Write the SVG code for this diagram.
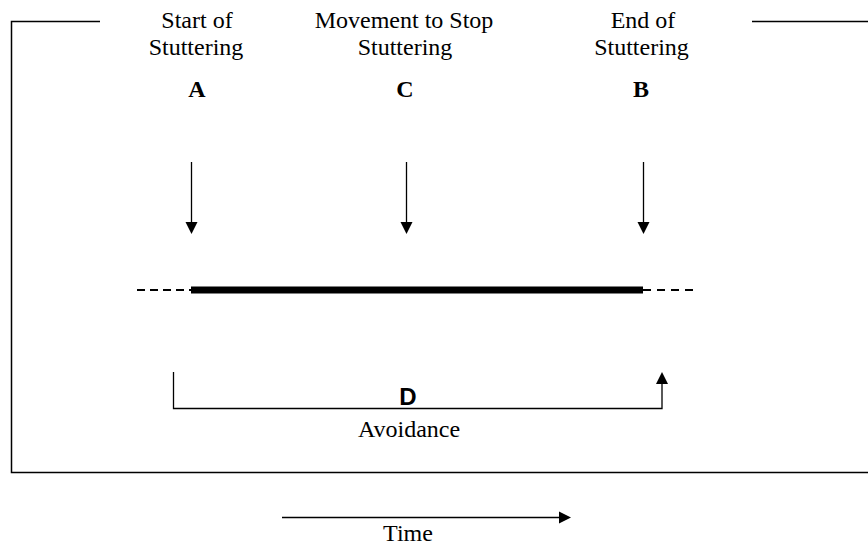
<svg xmlns="http://www.w3.org/2000/svg" width="868" height="548" viewBox="0 0 868 548">
<style>
.t{font-family:"Liberation Serif","Times New Roman",serif;font-size:24px;fill:#000;text-anchor:middle}
.b{font-family:"Liberation Serif","Times New Roman",serif;font-size:24px;font-weight:bold;fill:#000;text-anchor:middle}
.s{font-family:"Liberation Sans",Arial,sans-serif;font-size:24px;font-weight:bold;fill:#000;text-anchor:middle}
.ln{stroke:#000;stroke-width:1.3;fill:none}
.fr{stroke:#000;stroke-width:1.5;fill:none}
.ah{fill:#000}
</style>
<rect width="868" height="548" fill="#fff"/>
<g id="frame">
<path class="fr" d="M100 21.5H11.5V472.5H868"/>
<path class="fr" d="M752 21.5H868"/>
</g>
<g id="nodeA">
<text class="t" x="197" y="28">Start of</text>
<text class="t" x="196" y="55">Stuttering</text>
<text class="b" x="197" y="97">A</text>
</g>
<g id="nodeC">
<text class="t" x="404" y="28">Movement to Stop</text>
<text class="t" x="405" y="55">Stuttering</text>
<text class="b" x="405" y="97">C</text>
</g>
<g id="nodeB">
<text class="t" x="643" y="28">End of</text>
<text class="t" x="641.5" y="55">Stuttering</text>
<text class="b" x="641" y="97">B</text>
</g>
<g id="timeline">
<line x1="137" y1="290" x2="191" y2="290" stroke="#000" stroke-width="2" stroke-dasharray="8,5"/>
<line x1="191" y1="290" x2="643" y2="290" stroke="#000" stroke-width="7"/>
<line x1="643" y1="290" x2="698" y2="290" stroke="#000" stroke-width="2" stroke-dasharray="8,6"/>
</g>
<g id="nodeD">
<text class="s" x="408" y="405">D</text>
<text class="t" x="409" y="437">Avoidance</text>
</g>
<g id="time">
<text class="t" x="408" y="541">Time</text>
</g>
<g id="connectors">
<line class="ln" x1="191.5" y1="162" x2="191.5" y2="224"/>
<polygon class="ah" points="185.5,222 197.5,222 191.5,234"/>
<line class="ln" x1="406.5" y1="162" x2="406.5" y2="224"/>
<polygon class="ah" points="400.5,222 412.5,222 406.5,234"/>
<line class="ln" x1="643.5" y1="162" x2="643.5" y2="224"/>
<polygon class="ah" points="637.5,222 649.5,222 643.5,234"/>
<path class="ln" d="M173.5 372V408.5H662V382"/>
<polygon class="ah" points="656,384 668,384 662,372"/>
<line class="ln" x1="282" y1="517.5" x2="561" y2="517.5"/>
<polygon class="ah" points="559,511.5 559,523.5 571,517.5"/>
</g>
</svg>
